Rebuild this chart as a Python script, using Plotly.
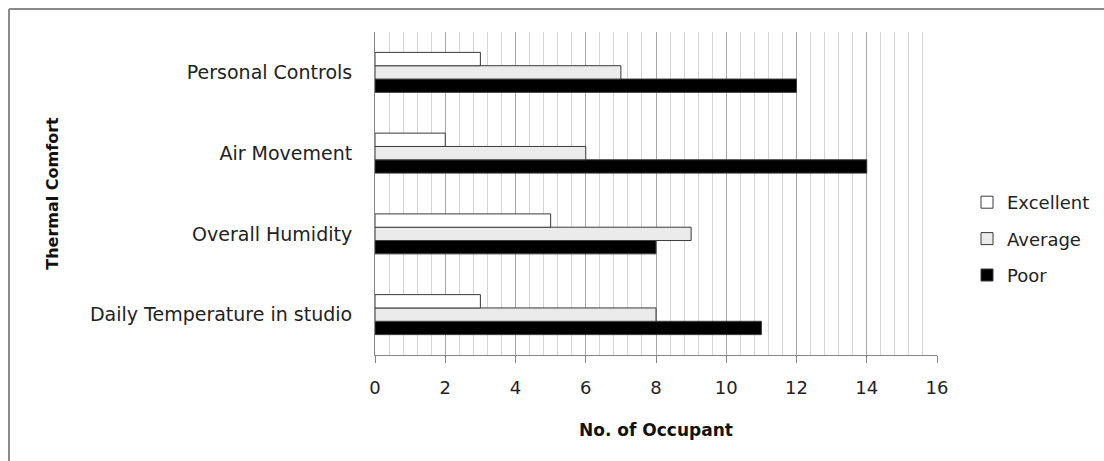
import plotly.graph_objects as go

categories = ["Daily Temperature in studio", "Overall Humidity", "Air Movement", "Personal Controls"]
excellent = [3, 5, 2, 3]
average = [8, 9, 6, 7]
poor = [11, 8, 14, 12]
x_ticks = [0, 2, 4, 6, 8, 10, 12, 14, 16]

W, H = 1104, 461
L, R, T, B = 375, 937, 32, 355
FONT = "DejaVu Sans"

fig = go.Figure()
edge = dict(color="#3a3a3a", width=1)
fig.add_trace(go.Bar(y=categories, x=poor, orientation="h", name="Poor",
                     marker=dict(color="#000000", line=edge), legendgroup="p", legendrank=3))
fig.add_trace(go.Bar(y=categories, x=average, orientation="h", name="Average",
                     marker=dict(color="#ebebeb", line=edge), legendgroup="a", legendrank=2))
fig.add_trace(go.Bar(y=categories, x=excellent, orientation="h", name="Excellent",
                     marker=dict(color="#ffffff", line=edge), legendgroup="e", legendrank=1))

def px_x(p):
    return (p - L) / (R - L)

def px_y(p):
    return (B - p) / (B - T)

fig.update_layout(
    width=W, height=H,
    margin=dict(l=L, r=W - R, t=T, b=H - B, pad=0, autoexpand=False),
    paper_bgcolor="white", plot_bgcolor="white",
    barmode="group", bargap=0.505, bargroupgap=0,
    font=dict(family=FONT, size=18, color="#222222"),
    showlegend=True,
    legend=dict(traceorder="grouped", tracegroupgap=10,
                x=px_x(967), y=px_y(184), xanchor="left", yanchor="top",
                font=dict(family=FONT, size=18, color="#222222"),
                bgcolor="rgba(0,0,0,0)"),
    xaxis=dict(range=[0, 16], tickvals=x_ticks, ticktext=[str(v) for v in x_ticks],
               showgrid=True, gridcolor="#a6a6a6", gridwidth=1,
               minor=dict(dtick=0.4, tick0=0, showgrid=True, gridcolor="#d4d4d4", gridwidth=1),
               showline=True, linecolor="#868686", linewidth=1,
               ticks="outside", ticklen=7, tickcolor="#868686",
               zeroline=False, ticklabelstandoff=9,
               tickfont=dict(family=FONT, size=18, color="#222222"),
               title=dict(text="<b>No. of Occupant</b>", standoff=27,
                          font=dict(family=FONT, size=17, color="#111111"))),
    yaxis=dict(categoryorder="array", categoryarray=categories,
               showgrid=False, showline=True, linecolor="#868686", linewidth=1,
               ticks="", zeroline=False, ticklabelstandoff=18,
               tickfont=dict(family=FONT, size=19, color="#222222"),
               title=dict(text="<b>Thermal Comfort</b>", standoff=27,
                          font=dict(family=FONT, size=16, color="#111111"))),
    shapes=[
        dict(type="line", xref="paper", yref="paper", x0=px_x(9), x1=px_x(1110),
             y0=px_y(9), y1=px_y(9), line=dict(color="#8a8a8a", width=2)),
        dict(type="line", xref="paper", yref="paper", x0=px_x(9), x1=px_x(9),
             y0=px_y(9), y1=px_y(470), line=dict(color="#8a8a8a", width=2)),
    ],
)

fig.write_html("out.html", config={"displayModeBar": False},
               post_script="document.body.style.margin='0';document.body.style.padding='0';")
